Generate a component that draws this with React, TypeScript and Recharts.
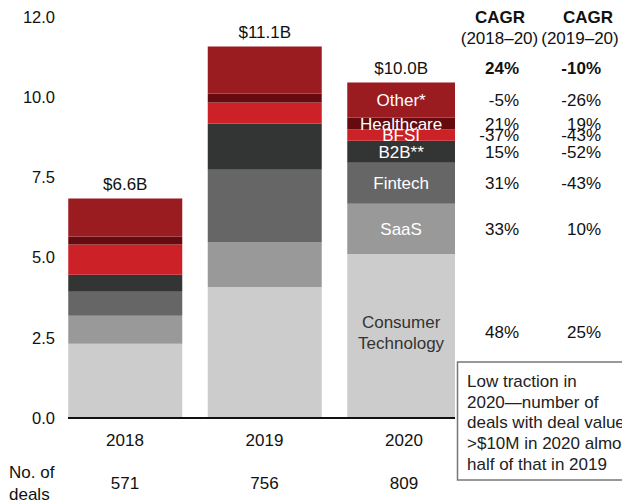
import React from 'react';
import { BarChart, Bar, XAxis, YAxis, LabelList, Rectangle } from 'recharts';

const categories = ['2018', '2019', '2020'];
const dealCounts = ['571', '756', '809'];
const totalLabels = ['$6.6B', '$11.1B', '$10.0B'];

const consumerTechnology = [2.22, 3.92, 4.91];
const saas = [0.84, 1.35, 1.5];
const fintech = [0.72, 2.16, 1.23];
const b2b = [0.51, 1.38, 0.66];
const bfsi = [0.9, 0.63, 0.33];
const healthcare = [0.24, 0.27, 0.36];
const other = [1.14, 1.41, 1.05];

const seriesKeys = ['consumer', 'saas', 'fintech', 'b2b', 'bfsi', 'healthcare', 'other'];
const seriesNames = [['Consumer', 'Technology'], ['SaaS'], ['Fintech'], ['B2B**'], ['BFSI'], ['Healthcare'], ['Other*']];
const seriesColors = ['#CCCCCC', '#999999', '#666666', '#333534', '#CD2128', '#650B0F', '#9A1B20'];
const labelColors = ['#333333', '#FFFFFF', '#FFFFFF', '#FFFFFF', '#FFFFFF', '#FFFFFF', '#FFFFFF'];

const cagr2018to20 = ['48%', '33%', '31%', '15%', '-37%', '21%', '-5%'];
const cagr2019to20 = ['25%', '10%', '-43%', '-52%', '-43%', '19%', '-26%'];
const totalCagr = ['24%', '-10%'];

const yTicks = [0, 2.4, 4.8, 7.2, 9.6, 12];
const yTickLabels = ['0.0', '2.5', '5.0', '7.5', '10.0', '12.0'];

const noteLines = ['Low traction in', '2020\u2014number of', 'deals with deal value', '>$10M in 2020 almost', 'half of that in 2019'];

const seriesValues = [consumerTechnology, saas, fintech, b2b, bfsi, healthcare, other];
const data = categories.map((year, i) => {
  const row: any = { year };
  seriesKeys.forEach((k, s) => { row[k] = seriesValues[s][i]; });
  return row;
});

const FONT = '"Liberation Sans", Arial, sans-serif';
const COL1_X = 519;
const COL2_X = 601;
const PLOT_RIGHT = 455;

const ClampedBar = (props: any) => {
  const x = Number(props.x), w = Number(props.width);
  const width = Math.min(w, PLOT_RIGHT - x);
  return <Rectangle x={x} y={props.y} width={width} height={props.height} fill={props.fill} />;
};

const makeSegmentLabel = (s: number) => (props: any) => {
  const { index } = props;
  if (index !== 2) return null;
  const x = Number(props.x), y = Number(props.y), w = Math.min(Number(props.width), PLOT_RIGHT - Number(props.x)), h = Number(props.height);
  const top = Math.min(y, y + h);
  const cx = x + w / 2;
  const cy = top + Math.abs(h) / 2;
  const lines = seriesNames[s];
  const rowY = s === 0 ? cy - 4 : cy;
  return (
    <g>
      {lines.map((ln, k) => (
        <text key={k} x={cx} y={lines.length > 1 ? cy - 14 + k * 21 : cy} dy="0.35em" textAnchor="middle"
          fill={labelColors[s]} fontSize={17} fontFamily={FONT}>{ln}</text>
      ))}
      <text x={COL1_X} y={rowY} dy="0.35em" textAnchor="end" fill="#111" fontSize={17} fontFamily={FONT}>{cagr2018to20[s]}</text>
      <text x={COL2_X} y={rowY} dy="0.35em" textAnchor="end" fill="#111" fontSize={17} fontFamily={FONT}>{cagr2019to20[s]}</text>
    </g>
  );
};

const TotalLabel = (props: any) => {
  const { index } = props;
  const x = Number(props.x), y = Number(props.y), h = Number(props.height);
  const w = Math.min(Number(props.width), PLOT_RIGHT - x);
  const top = Math.min(y, y + h);
  const cy = top - 14;
  return (
    <g>
      <text x={x + w / 2} y={cy} dy="0.35em" textAnchor="middle" fill="#111" fontSize={17} fontFamily={FONT}>{totalLabels[index]}</text>
      {index === 2 && (
        <g>
          <text x={COL1_X} y={cy} dy="0.35em" textAnchor="end" fill="#111" fontSize={17} fontWeight="bold" fontFamily={FONT}>{totalCagr[0]}</text>
          <text x={COL2_X} y={cy} dy="0.35em" textAnchor="end" fill="#111" fontSize={17} fontWeight="bold" fontFamily={FONT}>{totalCagr[1]}</text>
        </g>
      )}
    </g>
  );
};

const XTick = (props: any) => {
  const { x, y, index, payload } = props;
  return (
    <g>
      <text x={x} y={y + 22} dy="0.35em" textAnchor="middle" fill="#111" fontSize={17} fontFamily={FONT}>{payload.value}</text>
      <text x={x} y={y + 65} dy="0.35em" textAnchor="middle" fill="#111" fontSize={17} fontFamily={FONT}>{dealCounts[index]}</text>
    </g>
  );
};

export default function App() {
  return (
    <div style={{ position: 'absolute', left: 0, top: 0, width: 622, height: 503, background: '#fff', fontFamily: FONT }}>
      <BarChart width={622} height={503} data={data} margin={{ top: 17, right: 167, bottom: 25, left: 0 }} barSize={114}>
        <XAxis dataKey="year" height={60} interval={0} tickLine={false} tickSize={0} tickMargin={0}
          axisLine={{ stroke: '#111', strokeWidth: 2 }} padding={{ left: -12.75, right: -18.75 }} tick={<XTick />} />
        <YAxis width={68} domain={[0, 12]} ticks={yTicks} interval={0} axisLine={false} tickLine={false}
          tickSize={0} tickMargin={13} tickFormatter={(v: number, i: number) => yTickLabels[i]}
          tick={{ fill: '#111', fontSize: 16.5, fontFamily: FONT }} />
        {seriesKeys.map((k, s) => (
          <Bar key={k} dataKey={k} stackId="a" fill={seriesColors[s]} isAnimationActive={false} shape={<ClampedBar />}>
            <LabelList dataKey={k} content={makeSegmentLabel(s)} />
            {s === seriesKeys.length - 1 && <LabelList dataKey={k} content={<TotalLabel />} />}
          </Bar>
        ))}
      </BarChart>
      <svg width={622} height={503} style={{ position: 'absolute', left: 0, top: 0, pointerEvents: 'none' }}>
        <text x={500} y={17} dy="0.35em" textAnchor="middle" fill="#111" fontSize={17} fontWeight="bold" fontFamily={FONT}>CAGR</text>
        <text x={588} y={17} dy="0.35em" textAnchor="middle" fill="#111" fontSize={17} fontWeight="bold" fontFamily={FONT}>CAGR</text>
        <text x={499.5} y={38} dy="0.35em" textAnchor="middle" fill="#111" fontSize={17} fontFamily={FONT}>(2018–20)</text>
        <text x={580} y={38} dy="0.35em" textAnchor="middle" fill="#111" fontSize={17} fontFamily={FONT}>(2019–20)</text>
        <text x={9} y={472} dy="0.35em" textAnchor="start" fill="#111" fontSize={17} fontFamily={FONT}>No. of</text>
        <text x={9} y={494} dy="0.35em" textAnchor="start" fill="#111" fontSize={17} fontFamily={FONT}>deals</text>
        <rect x={457.5} y={362} width={220} height={118} fill="#fff" stroke="#777" strokeWidth={1.5} />
        {noteLines.map((ln, i) => (
          <text key={i} x={467} y={381 + i * 20.7} dy="0.35em" textAnchor="start" fill="#222" fontSize={17} fontFamily={FONT}>{ln}</text>
        ))}
      </svg>
    </div>
  );
}
